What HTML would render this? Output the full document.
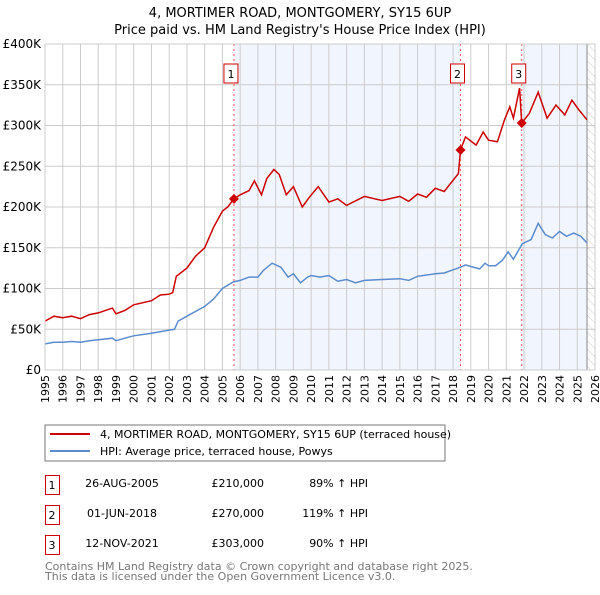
<!DOCTYPE html>
<html><head><meta charset="utf-8"><style>
body{margin:0;background:#fff;font-family:"Liberation Sans","DejaVu Sans",sans-serif}
svg text{font-family:"DejaVu Sans","Liberation Sans",sans-serif}
</style></head><body>
<svg id="c" width="600" height="590" xmlns="http://www.w3.org/2000/svg">
<defs><pattern id="hatch" width="6" height="6" patternUnits="userSpaceOnUse" patternTransform="rotate(-45)"><line x1="0" y1="0" x2="0" y2="6" stroke="#ccc" stroke-width="1"/></pattern></defs>
<text x="300" y="17" text-anchor="middle" font-size="13">4, MORTIMER ROAD, MONTGOMERY, SY15 6UP</text>
<text x="300" y="34" text-anchor="middle" font-size="13">Price paid vs. HM Land Registry's House Price Index (HPI)</text>
<g id="plot"></g>
<rect x="45" y="425" width="400" height="36" fill="#fff" stroke="#777"/>
<line x1="50" y1="434" x2="90" y2="434" stroke="#cc0000" stroke-width="2"/>
<text x="100" y="438" font-size="11">4, MORTIMER ROAD, MONTGOMERY, SY15 6UP (terraced house)</text>
<line x1="50" y1="451" x2="90" y2="451" stroke="#5b8ccf" stroke-width="2"/>
<text x="100" y="455" font-size="11">HPI: Average price, terraced house, Powys</text>
<g font-size="11">
<rect x="45.5" y="475.5" width="14" height="19" fill="#fff" stroke="#cc0000"/><text x="52" y="489" text-anchor="middle">1</text>
<text x="122" y="487" text-anchor="middle">26-AUG-2005</text><text x="264" y="487" text-anchor="end">£210,000</text><text x="368" y="487" text-anchor="end">89% ↑ HPI</text>
<rect x="45.5" y="505.5" width="14" height="19" fill="#fff" stroke="#cc0000"/><text x="52" y="519" text-anchor="middle">2</text>
<text x="122" y="517" text-anchor="middle">01-JUN-2018</text><text x="264" y="517" text-anchor="end">£270,000</text><text x="368" y="517" text-anchor="end">119% ↑ HPI</text>
<rect x="45.5" y="535.5" width="14" height="19" fill="#fff" stroke="#cc0000"/><text x="52" y="549" text-anchor="middle">3</text>
<text x="122" y="547" text-anchor="middle">12-NOV-2021</text><text x="264" y="547" text-anchor="end">£303,000</text><text x="368" y="547" text-anchor="end">90% ↑ HPI</text>
</g>
<text x="45" y="570" font-size="11" fill="#777">Contains HM Land Registry data © Crown copyright and database right 2025.</text>
<text x="45" y="580" font-size="11" fill="#777">This data is licensed under the Open Government Licence v3.0.</text>
</svg>
<script>
const yTicks=[0,50,100,150,200,250,300,350,400];
const yTickLabels=["£0","£50K","£100K","£150K","£200K","£250K","£300K","£350K","£400K"];
const xYears=[1995,1996,1997,1998,1999,2000,2001,2002,2003,2004,2005,2006,2007,2008,2009,2010,2011,2012,2013,2014,2015,2016,2017,2018,2019,2020,2021,2022,2023,2024,2025,2026];
const hpiT=[1995,1995.5,1996,1996.5,1997,1997.5,1998,1998.8,1999,1999.5,2000,2001,2002,2002.3,2002.5,2003,2004,2004.5,2005,2005.6,2006,2006.5,2007,2007.3,2007.8,2008.3,2008.7,2009,2009.4,2009.8,2010,2010.5,2011,2011.5,2012,2012.5,2013,2014,2015,2015.5,2016,2017,2017.5,2018,2018.4,2018.7,2019,2019.5,2019.8,2020,2020.4,2020.8,2021.1,2021.4,2021.9,2022.4,2022.8,2023.2,2023.6,2024,2024.4,2024.8,2025.2,2025.55];
const hpiV=[32,34,34,35,34,36,37,39,36,39,42,45,49,50,60,66,78,87,100,108,110,114,114,122,131,126,114,118,107,114,116,114,116,109,111,107,110,111,112,110,115,118,119,123,126,129,127,124,131,128,128,135,145,136,155,160,180,166,162,170,164,168,164,156];
const ppT=[1995,1995.5,1996,1996.5,1997,1997.5,1998,1998.8,1999,1999.5,2000,2001,2001.5,2002,2002.2,2002.4,2003,2003.5,2004,2004.5,2005,2005.3,2005.65,2006,2006.5,2006.8,2007.2,2007.5,2007.9,2008.2,2008.6,2009,2009.5,2009.9,2010.4,2011,2011.5,2012,2013,2014,2015,2015.5,2016,2016.5,2017,2017.5,2018.3,2018.42,2018.7,2019.3,2019.7,2020,2020.5,2020.9,2021.2,2021.4,2021.75,2021.87,2022.3,2022.8,2023.3,2023.8,2024.3,2024.7,2025.1,2025.55];
const ppV=[60,66,64,66,63,68,70,76,69,73,80,85,92,93,95,115,125,140,150,175,195,200,210,215,220,232,215,235,246,240,215,225,200,212,225,206,210,202,213,208,213,207,216,212,223,219,241,270,286,276,292,282,280,307,323,309,346,303,315,341,309,325,313,331,319,307];
const sales=[[2005.65,210,"1"],[2018.42,270,"2"],[2021.87,303,"3"]];
const NS="http://www.w3.org/2000/svg";
const X0=45,X1=595,Y0=370,Y1=44;
const xs=t=>X0+(t-1995)/(2026-1995)*(X1-X0);
const ys=v=>Y0-v/400*(Y0-Y1);
const g=document.getElementById('plot');
function mk(tag,a){const e=document.createElementNS(NS,tag);for(const k in a)e.setAttribute(k,a[k]);g.appendChild(e);return e;}
let e;
e=mk('rect',{x:xs(sales[0][0]),y:Y1,width:xs(sales[1][0])-xs(sales[0][0]),height:Y0-Y1,fill:'#eef3fd',opacity:0.8});


e=mk('rect',{x:xs(sales[2][0]),y:Y1,width:xs(2025.55)-xs(sales[2][0]),height:Y0-Y1,fill:'#eef3fd',opacity:0.8});


e=mk('rect',{x:xs(2025.55),y:Y1,width:X1-xs(2025.55),height:Y0-Y1,fill:'url(#hatch)'});


xYears.forEach(y=>{e=mk('line',{x1:xs(y),x2:xs(y),y1:Y1,y2:Y0,stroke:'#ccc','stroke-width':1});


const t=mk('text',{x:0,y:0,'font-size':11,'text-anchor':'end',transform:`translate(${xs(y)+4},${Y0+5}) rotate(-90)`});t.textContent=y;

});
yTicks.forEach((v,i)=>{e=mk('line',{x1:X0,x2:X1,y1:ys(v),y2:ys(v),stroke:'#ccc','stroke-width':1});


const t=mk('text',{x:X0-4,y:ys(v)+4,'font-size':12,'text-anchor':'end'});t.textContent=yTickLabels[i];

});
e=mk('line',{x1:xs(2025.55),x2:xs(2025.55),y1:Y1,y2:Y0,stroke:'#888','stroke-width':1});


sales.forEach(s=>{e=mk('line',{x1:xs(s[0]),x2:xs(s[0]),y1:Y1,y2:Y0,stroke:'#f55','stroke-width':1,'stroke-dasharray':'2,3'});

});
const path=(T,V)=>T.map((t,i)=>(i?'L':'M')+xs(t).toFixed(1)+','+ys(V[i]).toFixed(1)).join('');
e=mk('path',{d:path(hpiT,hpiV),fill:'none',stroke:'#5b8ccf','stroke-width':1.5});


e=mk('path',{d:path(ppT,ppV),fill:'none',stroke:'#cc0000','stroke-width':1.5});


sales.forEach(s=>{const cx=xs(s[0]),cy=ys(s[1]);
e=mk('path',{d:`M${cx},${cy-5}L${cx+5},${cy}L${cx},${cy+5}L${cx-5},${cy}Z`,fill:'#cc0000'});


e=mk('rect',{x:cx-10,y:64,width:14,height:19,fill:'#fff',stroke:'#cc0000'});


const t=mk('text',{x:cx-3,y:78,'font-size':11,'text-anchor':'middle'});t.textContent=s[2];

});
e=mk('rect',{x:X0,y:Y1,width:X1-X0,height:Y0-Y1,fill:'none',stroke:'#ccc'});


</script>
</body></html>
